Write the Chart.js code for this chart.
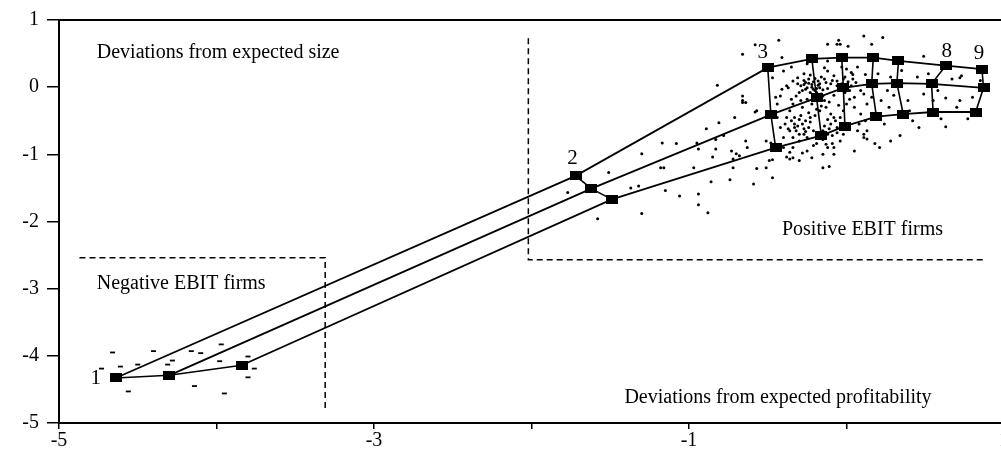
<!DOCTYPE html>
<html><head><meta charset="utf-8">
<script src="https://cdn.jsdelivr.net/npm/chart.js@4.4.1/dist/chart.umd.min.js"></script>
<style>
html,body{margin:0;padding:0;background:#fff;overflow:hidden;width:1001px;height:457px;}
#wrap{position:absolute;left:0;top:0;width:1020px;height:457px;}
</style></head><body>
<div id="wrap"><canvas id="c" width="1020" height="457"></canvas></div>
<script>
// Decile categories (firms sorted into deciles)
const deciles = ['1','2','3','4','5','6','7','8','9'];
const labeledDeciles = ['1','2','3','8','9'];
// Three curves: x = deviation from expected profitability, y = deviation from expected size
const upperX  = [-4.64, -1.72, -0.50, -0.22, -0.03, 0.17, 0.33, 0.63, 0.86];
const upperY  = [-4.33, -1.32,  0.29,  0.42,  0.44, 0.44, 0.39, 0.32, 0.27];
const middleX = [-4.30, -1.62, -0.48, -0.19, -0.02, 0.16, 0.32, 0.54, 0.87];
const middleY = [-4.29, -1.51, -0.41, -0.16, -0.01, 0.05, 0.06, 0.05, -0.01];
const lowerX  = [-3.84, -1.49, -0.45, -0.16, -0.01, 0.19, 0.36, 0.55, 0.82];
const lowerY  = [-4.14, -1.67, -0.90, -0.72, -0.58, -0.44, -0.40, -0.37, -0.37];
// Individual firms
const negativeFirms = [[-4.66,-3.95],[-4.40,-3.93],[-4.16,-3.93],[-4.10,-3.96],[-3.97,-3.83],[-4.73,-4.19],[-4.61,-4.16],[-4.50,-4.13],[-4.31,-4.13],[-4.28,-4.07],[-3.98,-4.08],[-3.80,-4.01],[-3.76,-4.19],[-3.80,-4.32],[-4.56,-4.53],[-4.14,-4.45],[-3.95,-4.56]];
const positiveFirms = [[-1.77,-1.57],[-1.58,-1.96],[-1.51,-1.27],[-1.37,-1.50],[-1.32,-1.47],[-1.30,-0.99],[-1.30,-1.88],[-1.18,-1.20],[-1.16,-1.20],[-1.17,-0.83],[-1.08,-0.84],[-1.15,-1.54],[-1.06,-1.62],[-0.97,-1.20],[-0.95,-0.83],[-0.94,-1.59],[-0.94,-0.92],[-0.94,-1.75],[-0.89,-0.62],[-0.88,-1.87],[-0.86,-1.41],[-0.85,-1.04],[-0.83,-0.92],[-0.83,-0.78],[-0.82,0.03],[-0.81,-0.53],[-0.78,-0.72],[-0.74,-1.38],[-0.73,-0.95],[-0.72,-1.07],[-0.72,-1.20],[-0.71,-0.45],[-0.70,-0.99],[-0.68,-1.02],[-0.66,-0.13],[-0.66,-0.23],[-0.64,-0.23],[-0.64,-0.80],[-0.63,-0.90],[-0.59,-1.44],[-0.58,-0.37],[-0.57,-1.21],[-0.51,-1.20],[-0.51,-0.80],[-0.48,-0.83],[-0.47,-1.08],[-0.47,-1.35],[-0.66,0.49],[-0.58,0.63],[-0.43,0.70],[-0.41,0.44],[-0.57,-0.35],[-0.66,-0.20],
[-0.11,-1.18],[0.11,-0.75],[0.21,-0.90],[0.34,-0.72],[0.46,-0.60],[0.63,-0.59],[0.72,-0.20],[0.49,-0.10],[0.26,-0.05],[0.39,-0.20],[0.73,0.17],[0.49,0.46],[0.89,-0.03],[-0.12,0.64],[-0.06,0.64],[-0.05,0.70],[-0.04,0.64],[0.01,0.61],[0.11,0.76],[0.16,0.64],[0.23,0.74],[0.63,-0.16],[0.72,0.14],[0.77,-0.47],
[-0.34,-0.90],[-0.28,-0.98],[-0.19,-0.84],[-0.12,-0.90],[-0.09,-0.84],[0.13,-0.65],[0.18,-0.84],[-0.34,-1.05],[-0.38,-1.04],
[-0.47,0.14],[-0.40,0.24],[-0.37,-0.01],[-0.34,0.09],[-0.31,0.14],[-0.28,-0.05],[-0.27,0.04],[-0.25,-0.01],[-0.24,0.12],[-0.22,0.04],[-0.21,-0.03],[-0.19,-0.08],[-0.18,0.09],[-0.17,-0.01],[-0.15,-0.13],[-0.14,-0.20],[-0.16,-0.28],[-0.20,-0.20],[-0.22,-0.25],[-0.25,-0.18],[-0.29,-0.20],[-0.32,-0.13],[-0.34,-0.25],[-0.36,-0.35],[-0.33,-0.45],[-0.30,-0.48],[-0.26,-0.50],[-0.23,-0.45],[-0.20,-0.42],[-0.17,-0.35],[-0.13,-0.30],[-0.10,-0.40],[-0.07,-0.50],[-0.04,-0.45],[-0.02,-0.35],[0.00,-0.25],[0.02,-0.18],[-0.01,-0.08],[-0.04,-0.01],[-0.06,0.09],[-0.08,0.17],[-0.12,0.24],[-0.14,0.29],[0.00,0.27],[0.04,0.19],[0.06,0.07],[0.09,-0.05],[0.05,-0.30],[0.09,-0.40],[0.12,-0.50],[0.13,-0.25],
[-0.42,-0.60],[-0.39,-0.55],[-0.36,-0.65],[-0.32,-0.65],[-0.27,-0.62],[-0.24,-0.60],[-0.21,-0.65],[-0.34,-0.75],[-0.30,-0.80],[-0.25,-0.75],[-0.19,-0.75],[-0.15,-0.65],[-0.10,-0.55],[-0.06,-0.60],[-0.40,-0.90],[-0.36,-0.97],[-0.25,-0.95],[-0.21,-0.87],[-0.13,-0.85],[-0.08,-0.90],[-0.04,-0.80],[0.07,-0.65],[0.11,-0.70],[0.13,-0.77],[-0.46,-0.90],[-0.44,-0.25],[-0.42,-0.13],[-0.41,-0.03],[-0.12,0.39],[-0.49,-1.09],[-0.36,-1.07],[-0.30,-1.09],[-0.22,-1.05],[-0.15,-1.00],[-0.08,-1.00],[0.11,-0.10],[0.13,0.04],[0.12,0.19],
[-0.22,0.00],[-0.20,-0.05],[-0.18,0.03],[-0.16,-0.10],[-0.12,-0.02],[-0.10,0.05],[-0.08,-0.12],[-0.14,0.12],[-0.26,0.07],[-0.30,-0.08],[-0.28,-0.30],[-0.24,-0.38],[-0.19,-0.33],[-0.11,-0.22],[-0.05,-0.27],[-0.02,0.12],[0.03,0.02],[0.05,-0.15],[-0.33,-0.55],[-0.27,-0.70],[-0.12,-0.70],[-0.08,-0.45],[0.08,-0.55],[0.02,-0.62],[-0.38,0.02],[-0.35,-0.18],[-0.44,-0.45],[-0.40,-0.75],[0.16,-0.15],[0.22,-0.20],[0.27,-0.30],[0.20,0.20],[0.28,0.15],[0.40,-0.35],[0.45,0.15],[0.55,-0.20],[0.67,0.12],[0.80,-0.15],[0.60,-0.47],
[-0.29,0.02],[-0.27,0.10],[-0.26,-0.03],[-0.24,0.06],[-0.23,-0.08],[-0.21,0.08],[-0.20,0.13],[-0.19,-0.02],[-0.17,0.05],[-0.16,0.15],[-0.15,-0.04],[-0.13,0.07],[-0.23,0.18],[-0.27,0.20],[-0.31,0.05],[-0.18,-0.15],[-0.21,-0.12],
[-0.03,0.05],[-0.01,0.15],[0.01,0.08],[0.03,0.22],[-0.06,0.02],[-0.09,0.10],[0.02,-0.05],[0.04,0.12],[-0.03,0.30],[0.07,0.30],
[-0.35,-0.50],[-0.33,-0.60],[-0.31,-0.58],[-0.30,-0.70],[-0.28,-0.55],[-0.26,-0.66],[-0.37,-0.62],[-0.38,-0.45],[-0.29,-0.42],[-0.23,-0.52],
[-0.14,-0.58],[-0.11,-0.62],[-0.09,-0.72],[-0.06,-0.68],[-0.15,-0.78],[-0.12,-0.48],[-0.03,-0.55],[-0.02,-0.70],
[0.24,-0.55],[0.30,-0.12],[0.35,0.25],[0.42,-0.50],[0.52,0.20],[0.58,-0.05],[0.70,-0.30],[0.85,0.10],[0.28,-0.80],[0.05,-0.95],[-0.15,-1.20],[-0.25,0.35],[-0.35,0.30],[-0.45,-0.15]];
// Region boxes (dashed)
const negBoxX = [-4.87, -3.31, -3.31];
const negBoxY = [-2.54, -2.54, -4.78];
const posBoxX = [-2.02, -2.02, 0.88];
const posBoxY = [0.73, -2.57, -2.57];
// Axis ticks
const xTickLabels = [-5, -3, -1, 1];
const yTickLabels = [1, 0, -1, -2, -3, -4, -5];
// Annotation texts [text, x, y]
const annotations = [
  ['Deviations from expected size', -4.76, 0.51],
  ['Negative EBIT firms', -4.76, -2.92],
  ['Positive EBIT firms', -0.41, -2.12],
  ['Deviations from expected profitability', -1.41, -4.62]
];

const FONT = '"Liberation Serif", "Times New Roman", serif';
const toPts = (xs, ys) => xs.map((x, i) => ({x, y: ys[i]}));

// square marker
const mk = document.createElement('canvas');
mk.width = 12; mk.height = 9;
const mctx = mk.getContext('2d');
mctx.fillStyle = '#000'; mctx.fillRect(0, 0, 12, 9);

const datasets = [];
datasets.push({data: negativeFirms.map(p => ({x:p[0], y:p[1]})), showLine:false, pointStyle:'line', pointRadius:2.5, borderColor:'#000', borderWidth:1.8, order:5});
datasets.push({data: positiveFirms.map(p => ({x:p[0], y:p[1]})), showLine:false, pointStyle:'circle', pointRadius:1.5, backgroundColor:'#000', borderColor:'#000', borderWidth:0, order:5});
datasets.push({data: toPts(negBoxX, negBoxY), showLine:true, borderDash:[6,4], borderColor:'#000', borderWidth:1.5, pointRadius:0, order:4});
datasets.push({data: toPts(posBoxX, posBoxY), showLine:true, borderDash:[6,4], borderColor:'#000', borderWidth:1.5, pointRadius:0, order:4});
deciles.forEach((d, i) => {
  datasets.push({data: [{x:upperX[i], y:upperY[i]}, {x:middleX[i], y:middleY[i]}, {x:lowerX[i], y:lowerY[i]}], showLine:true, borderColor:'#000', borderWidth:1.6, pointRadius:0, order:3});
});
[[upperX, upperY], [middleX, middleY], [lowerX, lowerY]].forEach(([xs, ys]) => {
  datasets.push({data: toPts(xs, ys), showLine:true, borderColor:'#000', borderWidth:1.8, pointStyle: mk, pointRadius:6, order:1});
});

const textPlugin = {
  id: 'texts',
  afterDatasetsDraw(chart) {
    const {ctx, scales:{x, y}, chartArea} = chart;
    ctx.save();
    // top frame line
    ctx.strokeStyle = '#000'; ctx.lineWidth = 2;
    ctx.beginPath(); ctx.moveTo(chartArea.left, chartArea.top); ctx.lineTo(chartArea.right, chartArea.top); ctx.stroke();
    ctx.fillStyle = '#000';
    ctx.font = '20px ' + FONT;
    ctx.textBaseline = 'middle'; ctx.textAlign = 'left';
    annotations.forEach(([t, ax, ay]) => ctx.fillText(t, x.getPixelForValue(ax), y.getPixelForValue(ay)));
    // decile number labels
    ctx.font = '21px ' + FONT;
    ctx.textAlign = 'center';
    const offs = {'1':[-20,0], '2':[-3,-17], '3':[-5,-15], '8':[1,-14], '9':[-3,-16]};
    labeledDeciles.forEach(d => {
      const i = deciles.indexOf(d);
      const px = x.getPixelForValue(upperX[i]) + offs[d][0];
      const py = y.getPixelForValue(upperY[i]) + offs[d][1];
      ctx.fillText(d, px, py);
    });
    ctx.restore();
  }
};

new Chart(document.getElementById('c'), {
  type: 'scatter',
  data: {datasets},
  options: {
    responsive: false,
    animation: false,
    devicePixelRatio: 1,
    layout: {padding: {top: 19, right: 16, left: 0, bottom: 0}},
    plugins: {legend: {display:false}, tooltip: {enabled:false}},
    scales: {
      x: {
        type: 'linear', min: -5, max: 1,
        afterFit(s) { s.height = 34; },
        border: {display:true, color:'#000', width:2},
        grid: {drawOnChartArea:false, drawTicks:true, tickLength:6, color:'#000', lineWidth:1.5},
        ticks: {stepSize:1, color:'#000', font:{family:FONT, size:20}, padding:0, maxRotation:0, autoSkip:false,
          callback: v => xTickLabels.includes(v) ? String(v) : ''}
      },
      y: {
        type: 'linear', min: -5, max: 1,
        afterFit(s) { s.width = 59; },
        border: {display:true, color:'#000', width:2},
        grid: {drawOnChartArea:false, drawTicks:true, tickLength:12, color:'#000', lineWidth:1.5},
        ticks: {stepSize:1, color:'#000', font:{family:FONT, size:20}, padding:8,
          callback: v => yTickLabels.includes(v) ? String(v) : ''}
      }
    }
  },
  plugins: [textPlugin]
});
</script>
</body></html>
